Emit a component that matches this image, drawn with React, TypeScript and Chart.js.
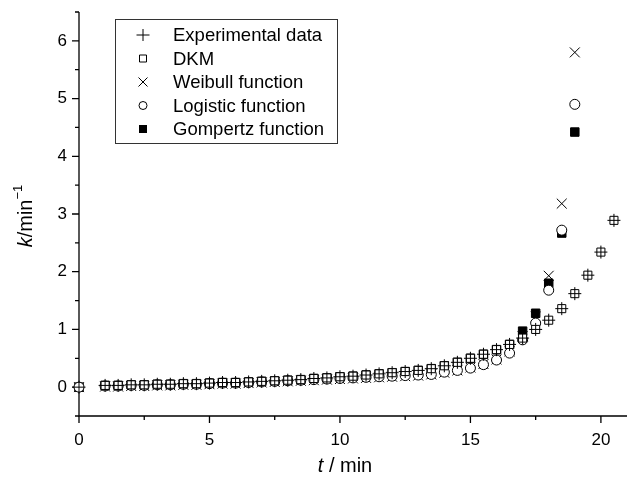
import React, { useEffect, useRef } from 'react';
import { Chart, registerables } from 'chart.js';

Chart.register(...registerables);

// ---- data ----
const tValues = [0, 1, 1.5, 2, 2.5, 3, 3.5, 4, 4.5, 5, 5.5, 6, 6.5, 7, 7.5, 8, 8.5, 9, 9.5, 10, 10.5, 11, 11.5, 12, 12.5, 13, 13.5, 14, 14.5, 15, 15.5, 16, 16.5, 17, 17.5, 18, 18.5, 19, 19.5, 20, 20.5];

const experimental = [0, 0.03, 0.03, 0.04, 0.04, 0.05, 0.05, 0.06, 0.06, 0.07, 0.08, 0.08, 0.09, 0.10, 0.11, 0.12, 0.13, 0.15, 0.16, 0.18, 0.19, 0.21, 0.23, 0.25, 0.27, 0.29, 0.32, 0.37, 0.43, 0.50, 0.57, 0.65, 0.74, 0.85, 1.00, 1.16, 1.36, 1.62, 1.94, 2.34, 2.89];

const dkm = [null, 0.03, 0.03, 0.04, 0.04, 0.05, 0.05, 0.06, 0.06, 0.07, 0.08, 0.08, 0.09, 0.10, 0.11, 0.12, 0.13, 0.15, 0.16, 0.18, 0.19, 0.21, 0.23, 0.25, 0.27, 0.29, 0.32, 0.37, 0.43, 0.50, 0.57, 0.65, 0.74, 0.85, 1.00, 1.16, 1.36, 1.62, 1.94, 2.34, 2.89];

const weibull = [0, 0.01, 0.01, 0.02, 0.02, 0.03, 0.03, 0.04, 0.04, 0.05, 0.06, 0.06, 0.07, 0.08, 0.09, 0.10, 0.11, 0.12, 0.13, 0.14, 0.15, 0.16, 0.17, 0.18, 0.19, 0.20, 0.22, 0.25, 0.29, 0.34, 0.40, 0.48, 0.62, 0.88, 1.22, 1.93, 3.18, 5.80, null, null, null];

const logistic = [0, 0.02, 0.02, 0.03, 0.03, 0.04, 0.04, 0.05, 0.05, 0.06, 0.07, 0.07, 0.08, 0.09, 0.10, 0.11, 0.12, 0.13, 0.14, 0.15, 0.16, 0.17, 0.18, 0.19, 0.20, 0.21, 0.22, 0.26, 0.29, 0.33, 0.39, 0.47, 0.59, 0.82, 1.11, 1.68, 2.72, 4.90, null, null, null];

const gompertz = [0, 0.03, 0.03, 0.04, 0.04, 0.05, 0.05, 0.06, 0.06, 0.07, 0.08, 0.08, 0.09, 0.10, 0.11, 0.12, 0.13, 0.15, 0.16, 0.18, 0.19, 0.21, 0.23, 0.25, 0.27, 0.29, 0.32, 0.37, 0.43, 0.50, 0.57, 0.65, 0.74, 0.97, 1.28, 1.80, 2.67, 4.42, null, null, null];

const seriesLabels = ['Experimental data', 'DKM', 'Weibull function', 'Logistic function', 'Gompertz function'];

const xTickLabels = [0, 5, 10, 15, 20];
const xMinorTicks = [2.5, 7.5, 12.5, 17.5];
const yTickLabels = [0, 1, 2, 3, 4, 5, 6];
const yMinorTicks = [-0.5, 0.5, 1.5, 2.5, 3.5, 4.5, 5.5, 6.5];

const FONT = '"Liberation Sans", Arial, sans-serif';

function toPoints(ys: (number | null)[]) {
  return tValues
    .map((x, i) => ({ x, y: ys[i] }))
    .filter((p) => p.y !== null && p.y !== undefined);
}

function drawSymbol(ctx: CanvasRenderingContext2D, style: string, x: number, y: number) {
  ctx.save();
  ctx.strokeStyle = '#000';
  ctx.fillStyle = '#000';
  ctx.lineWidth = 1;
  ctx.beginPath();
  if (style === 'cross') {
    ctx.moveTo(x - 6.5, y);
    ctx.lineTo(x + 6.5, y);
    ctx.moveTo(x, y - 6);
    ctx.lineTo(x, y + 6);
    ctx.stroke();
  } else if (style === 'rect') {
    ctx.fillStyle = '#fff';
    ctx.rect(x - 3.5, y - 3.5, 7, 7);
    ctx.fill();
    ctx.stroke();
  } else if (style === 'crossRot') {
    ctx.moveTo(x - 4.5, y - 4.5);
    ctx.lineTo(x + 4.5, y + 4.5);
    ctx.moveTo(x + 4.5, y - 4.5);
    ctx.lineTo(x - 4.5, y + 4.5);
    ctx.stroke();
  } else if (style === 'circle') {
    ctx.fillStyle = '#fff';
    ctx.arc(x, y, 4, 0, Math.PI * 2);
    ctx.fill();
    ctx.stroke();
  } else if (style === 'filledRect') {
    ctx.rect(x - 4, y - 4, 8, 8);
    ctx.fill();
  }
  ctx.restore();
}

const decorPlugin = {
  id: 'decor',
  beforeDatasetsDraw(chart: any) {
    const { ctx, chartArea, scales } = chart;
    const { left, right, top, bottom } = chartArea;
    const xs = scales.x;
    const ys = scales.y;
    ctx.save();
    ctx.strokeStyle = '#000';
    ctx.lineWidth = 1.3;
    ctx.beginPath();
    ctx.moveTo(left, top);
    ctx.lineTo(left, bottom);
    ctx.lineTo(right, bottom);
    ctx.stroke();
    ctx.beginPath();
    xTickLabels.forEach((v) => {
      const px = xs.getPixelForValue(v);
      ctx.moveTo(px, bottom);
      ctx.lineTo(px, bottom + 7);
    });
    xMinorTicks.forEach((v) => {
      const px = xs.getPixelForValue(v);
      ctx.moveTo(px, bottom);
      ctx.lineTo(px, bottom + 4);
    });
    yTickLabels.forEach((v) => {
      const py = ys.getPixelForValue(v);
      ctx.moveTo(left, py);
      ctx.lineTo(left - 7, py);
    });
    yMinorTicks.forEach((v) => {
      const py = ys.getPixelForValue(v);
      ctx.moveTo(left, py);
      ctx.lineTo(left - 4, py);
    });
    ctx.stroke();
    ctx.restore();
  },
  afterDraw(chart: any) {
    const { ctx } = chart;
    ctx.save();
    ctx.fillStyle = '#000';
    ctx.textBaseline = 'middle';
    // x title
    const xParts = [
      { t: 't', f: `italic 20px ${FONT}` },
      { t: ' / min', f: `20px ${FONT}` },
    ];
    let total = 0;
    xParts.forEach((p) => {
      ctx.font = p.f;
      total += ctx.measureText(p.t).width;
    });
    let cx = 345 - total / 2;
    xParts.forEach((p) => {
      ctx.font = p.f;
      ctx.textAlign = 'left';
      ctx.fillText(p.t, cx, 466);
      cx += ctx.measureText(p.t).width;
    });
    // y title
    ctx.save();
    ctx.translate(26, 216);
    ctx.rotate(-Math.PI / 2);
    const yParts = [
      { t: 'k', f: `italic 20px ${FONT}`, dy: 0 },
      { t: '/min', f: `20px ${FONT}`, dy: 0 },
      { t: '\u22121', f: `13px ${FONT}`, dy: -8 },
    ];
    total = 0;
    yParts.forEach((p) => {
      ctx.font = p.f;
      total += ctx.measureText(p.t).width;
    });
    cx = -total / 2;
    yParts.forEach((p) => {
      ctx.font = p.f;
      ctx.textAlign = 'left';
      ctx.fillText(p.t, cx, p.dy);
      cx += ctx.measureText(p.t).width;
    });
    ctx.restore();

    // legend
    ctx.strokeStyle = '#333';
    ctx.lineWidth = 1;
    ctx.strokeRect(115.5, 19.5, 222, 124);
    const styles = ['cross', 'rect', 'crossRot', 'circle', 'filledRect'];
    const rowsY = [35, 58.5, 82, 105.5, 129];
    seriesLabels.forEach((label, i) => {
      drawSymbol(ctx, styles[i], 143, rowsY[i]);
      ctx.font = `18.5px ${FONT}`;
      ctx.textAlign = 'left';
      ctx.fillStyle = '#000';
      ctx.fillText(label, 173, rowsY[i] + 1);
    });
    ctx.restore();
  },
};

export default function App() {
  const canvasRef = useRef<HTMLCanvasElement | null>(null);

  useEffect(() => {
    if (!canvasRef.current) return;
    const common = { borderColor: '#000', borderWidth: 1, clip: false as any, showLine: false };
    const chart = new Chart(canvasRef.current, {
      type: 'scatter',
      data: {
        datasets: [
          { ...common, label: seriesLabels[0], data: toPoints(experimental), pointStyle: 'cross', pointRadius: 6.5, backgroundColor: '#000', order: 0 },
          { ...common, label: seriesLabels[1], data: toPoints(dkm), pointStyle: 'rect', pointRadius: 5.7, backgroundColor: '#fff', order: 1 },
          { ...common, label: seriesLabels[2], data: toPoints(weibull), pointStyle: 'crossRot', pointRadius: 7, backgroundColor: '#000', order: 3 },
          { ...common, label: seriesLabels[3], data: toPoints(logistic), pointStyle: 'circle', pointRadius: 5, backgroundColor: '#fff', order: 2 },
          { ...common, label: seriesLabels[4], data: toPoints(gompertz), pointStyle: 'rect', pointRadius: 6, backgroundColor: '#000', order: 4 },
        ] as any,
      },
      options: {
        animation: false,
        responsive: false,
        maintainAspectRatio: false,
        devicePixelRatio: 1,
        events: [],
        layout: { padding: { top: 12, right: 0, left: 0, bottom: 0 }, autoPadding: false },
        plugins: { legend: { display: false }, tooltip: { enabled: false } },
        scales: {
          x: {
            type: 'linear',
            min: 0,
            max: 21,
            grid: { display: false, drawTicks: false },
            border: { display: false },
            afterBuildTicks: (s: any) => {
              s.ticks = xTickLabels.map((value) => ({ value }));
            },
            afterFit: (s: any) => {
              s.height = 64;
              s.paddingLeft = 0;
              s.paddingRight = 0;
            },
            ticks: { font: { family: FONT, size: 17 }, color: '#000', padding: 14, maxRotation: 0, autoSkip: false },
          },
          y: {
            type: 'linear',
            min: -0.5,
            max: 6.5,
            grid: { display: false, drawTicks: false },
            border: { display: false },
            afterBuildTicks: (s: any) => {
              s.ticks = yTickLabels.map((value) => ({ value }));
            },
            afterFit: (s: any) => {
              s.width = 79;
              s.paddingTop = 0;
              s.paddingBottom = 0;
            },
            ticks: { font: { family: FONT, size: 17 }, color: '#000', padding: 12, autoSkip: false },
          },
        },
      } as any,
      plugins: [decorPlugin],
    });
    return () => chart.destroy();
  }, []);

  return (
    <div style={{ position: 'fixed', left: 0, top: 0, width: 627, height: 480, background: '#fff' }}>
      <canvas ref={canvasRef} width={627} height={480} style={{ display: 'block' }} />
    </div>
  );
}
